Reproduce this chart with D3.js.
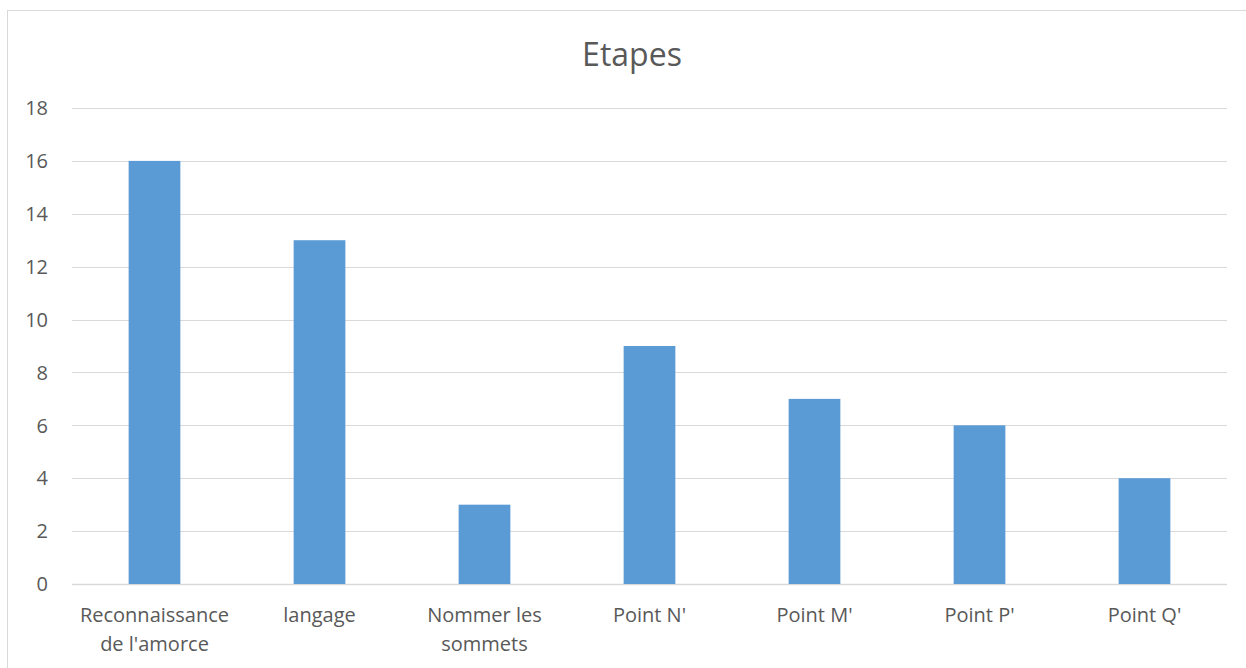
<!DOCTYPE html>
<html>
<head>
<meta charset="utf-8">
<script src="https://cdn.jsdelivr.net/npm/d3@7"></script>
<style>
  body { margin: 0; background: #fff; }
  text { font-family: "Open Sans", sans-serif; fill: #595959; }
</style>
</head>
<body>
<div id="chart"></div>
<script>
// data
var categories = [["Reconnaissance", "de l'amorce"], ["langage"], ["Nommer les", "sommets"],
                  ["Point N'"], ["Point M'"], ["Point P'"], ["Point Q'"]];
var values = [16, 13, 3, 9, 7, 6, 4];
var yTicks = [0, 2, 4, 6, 8, 10, 12, 14, 16, 18];
var title = 'Etapes';

var width = 1246,
    height = 668,
    margin = {top: 108, right: 19, bottom: 84, left: 72};

var svg = d3.select('#chart').append('svg')
    .attr('width', width)
    .attr('height', height);

// chart frame (only top and left edges are visible)
svg.append('rect')
    .attr('x', 7.5).attr('y', 10.5)
    .attr('width', width + 20).attr('height', height + 20)
    .attr('fill', 'none')
    .attr('stroke', '#d9d9d9')
    .attr('stroke-width', 1);

var x = d3.scaleBand()
    .domain(d3.range(categories.length))
    .range([margin.left, width - margin.right])
    .paddingInner(0.6865)
    .paddingOuter(0.34325);

var y = d3.scaleLinear()
    .domain([0, 18])
    .range([height - margin.bottom, margin.top]);

// gridlines
svg.append('g').selectAll('line')
    .data(yTicks)
  .enter().append('line')
    .attr('x1', margin.left)
    .attr('x2', width - margin.right)
    .attr('y1', function(d) { return Math.round(y(d)) + 0.5; })
    .attr('y2', function(d) { return Math.round(y(d)) + 0.5; })
    .attr('stroke', '#d9d9d9')
    .attr('stroke-width', function(d) { return d === 0 ? 1.5 : 1.2; });

// y tick labels
svg.append('g').selectAll('text')
    .data(yTicks)
  .enter().append('text')
    .attr('x', 48)
    .attr('y', function(d) { return y(d); })
    .attr('dy', '0.36em')
    .attr('text-anchor', 'end')
    .style('font-size', '20px')
    .text(function(d) { return d; });

// bars
svg.append('g').selectAll('rect')
    .data(values)
  .enter().append('rect')
    .attr('x', function(d, i) { return x(i); })
    .attr('y', function(d) { return y(d); })
    .attr('width', x.bandwidth())
    .attr('height', function(d) { return y(0) - y(d); })
    .attr('fill', '#5b9bd5');

// category labels
var lab = svg.append('g').selectAll('text')
    .data(categories)
  .enter().append('text')
    .attr('x', function(d, i) { return x(i) + x.bandwidth() / 2; })
    .attr('y', 622)
    .attr('text-anchor', 'middle')
    .style('font-size', '20px');

lab.selectAll('tspan')
    .data(function(d) { return d; })
  .enter().append('tspan')
    .attr('x', function() { return this.parentNode.getAttribute('x'); })
    .attr('dy', function(d, i) { return i === 0 ? 0 : 29; })
    .text(function(d) { return d; });

// title
svg.append('text')
    .attr('x', 632)
    .attr('y', 66)
    .attr('text-anchor', 'middle')
    .style('font-size', '32px')
    .text(title);
</script>
</body>
</html>
